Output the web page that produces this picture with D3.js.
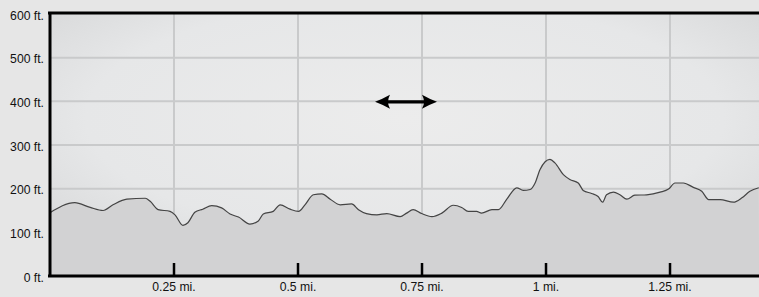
<!DOCTYPE html>
<html><head><meta charset="utf-8">
<script src="https://cdn.jsdelivr.net/npm/d3@7"></script>
<style>
html,body{margin:0;padding:0;background:#e6e6e6;}
svg{display:block;}
text{font-family:"Liberation Sans",Arial,Helvetica,sans-serif;font-size:12.2px;fill:#111;}
</style></head>
<body><svg id="c" width="759" height="297"></svg>
<script>
const miles = [0,0.050,0.081,0.107,0.127,0.155,0.192,0.202,0.218,0.242,0.252,0.268,0.278,0.292,0.308,0.326,0.346,0.363,0.380,0.403,0.420,0.430,0.450,0.464,0.484,0.501,0.514,0.531,0.548,0.565,0.585,0.608,0.622,0.638,0.659,0.679,0.706,0.719,0.732,0.749,0.770,0.790,0.813,0.830,0.843,0.860,0.870,0.891,0.904,0.921,0.941,0.954,0.968,0.978,0.988,1.008,1.018,1.035,1.048,1.065,1.075,1.092,1.105,1.114,1.122,1.136,1.149,1.163,1.179,1.203,1.230,1.247,1.260,1.277,1.297,1.314,1.328,1.351,1.378,1.395,1.411,1.429];
const elevation = [145,168,157,150,163,176,178,171,152,148,140,116,122,146,153,161,156,142,135,119,126,142,148,163,153,148,163,186,188,176,163,165,152,143,140,143,136,144,152,143,136,144,162,157,148,148,144,152,152,176,202,196,198,213,244,267,259,232,221,213,196,189,182,169,186,192,186,176,185,186,192,199,213,213,203,194,175,175,169,179,194,202];
const xTickValues = [0.25,0.5,0.75,1,1.25];
const xTickLabels = ["0.25 mi.","0.5 mi.","0.75 mi.","1 mi.","1.25 mi."];
const yTickValues = [0,100,200,300,400,500,600];
const yTickLabels = ["0 ft.","100 ft.","200 ft.","300 ft.","400 ft.","500 ft.","600 ft."];

const svg = d3.select("#c");
const L = 50, R = 759, T = 14, B = 276;
const x = d3.scaleLinear().domain([0, 1.4294]).range([L, R]);
const y = d3.scaleLinear().domain([0, 600]).range([B, T]);

const defs = svg.append("defs");
const rg = defs.append("radialGradient").attr("id","bg").attr("cx","0.5").attr("cy","0.4").attr("r","0.75");
rg.append("stop").attr("offset","0").attr("stop-color","#ececec");
rg.append("stop").attr("offset","0.6").attr("stop-color","#e6e7e8");
rg.append("stop").attr("offset","1").attr("stop-color","#d2d3d4");

svg.append("rect").attr("x",L).attr("y",T-1).attr("width",R-L).attr("height",B-T+1).attr("fill","url(#bg)");

// grid
const g = svg.append("g");
g.selectAll("line.h").data([200,300,400,500]).enter().append("line")
  .attr("x1",L).attr("x2",R).attr("y1",d=>y(d)).attr("y2",d=>y(d))
  .attr("stroke","#c9cacb").attr("stroke-width",2);
g.selectAll("line.v").data(xTickValues).enter().append("line")
  .attr("x1",d=>x(d)).attr("x2",d=>x(d)).attr("y1",T).attr("y2",B)
  .attr("stroke","#c9cacb").attr("stroke-width",2);

const pts = miles.map((m,i)=>[m,elevation[i]]);
const area = d3.area().x(d=>x(d[0])).y0(B).y1(d=>y(d[1])).curve(d3.curveMonotoneX);
const line = d3.line().x(d=>x(d[0])).y(d=>y(d[1])).curve(d3.curveMonotoneX);
svg.append("path").attr("d",area(pts)).attr("fill","#d2d2d3");
svg.append("path").attr("d",line(pts)).attr("fill","none").attr("stroke","#444").attr("stroke-width",1.2);

// borders
svg.append("line").attr("x1",L-2).attr("x2",R).attr("y1",T-1).attr("y2",T-1).attr("stroke","#000").attr("stroke-width",3);
svg.append("line").attr("x1",L).attr("x2",L).attr("y1",T-2).attr("y2",B+1).attr("stroke","#000").attr("stroke-width",3);
svg.append("line").attr("x1",L-2).attr("x2",R).attr("y1",B).attr("y2",B).attr("stroke","#000").attr("stroke-width",3);

// x ticks
svg.selectAll("line.xt").data(xTickValues).enter().append("line")
  .attr("x1",d=>x(d)).attr("x2",d=>x(d)).attr("y1",B-13).attr("y2",B)
  .attr("stroke","#000").attr("stroke-width",2.5);
svg.selectAll("text.xl").data(xTickValues).enter().append("text")
  .attr("x",d=>x(d)).attr("y",291).attr("text-anchor","middle")
  .text((d,i)=>xTickLabels[i]);
svg.selectAll("text.yl").data(yTickValues).enter().append("text")
  .attr("x",44).attr("y",d=>y(d)+5.5).attr("text-anchor","end")
  .text((d,i)=>yTickLabels[i]);

// double arrow
const ay = y(400)+0.5, ax1 = 375, ax2 = 437;
svg.append("line").attr("x1",ax1+10).attr("x2",ax2-10).attr("y1",ay).attr("y2",ay).attr("stroke","#000").attr("stroke-width",3.2);
svg.append("path").attr("d",`M${ax1},${ay} Q${ax1+8},${ay-3} ${ax1+15},${ay-7} Q${ax1+11},${ay} ${ax1+15},${ay+7} Q${ax1+8},${ay+3} ${ax1},${ay} Z`).attr("fill","#000");
svg.append("path").attr("d",`M${ax2},${ay} Q${ax2-8},${ay-3} ${ax2-15},${ay-7} Q${ax2-11},${ay} ${ax2-15},${ay+7} Q${ax2-8},${ay+3} ${ax2},${ay} Z`).attr("fill","#000");
</script></body></html>
